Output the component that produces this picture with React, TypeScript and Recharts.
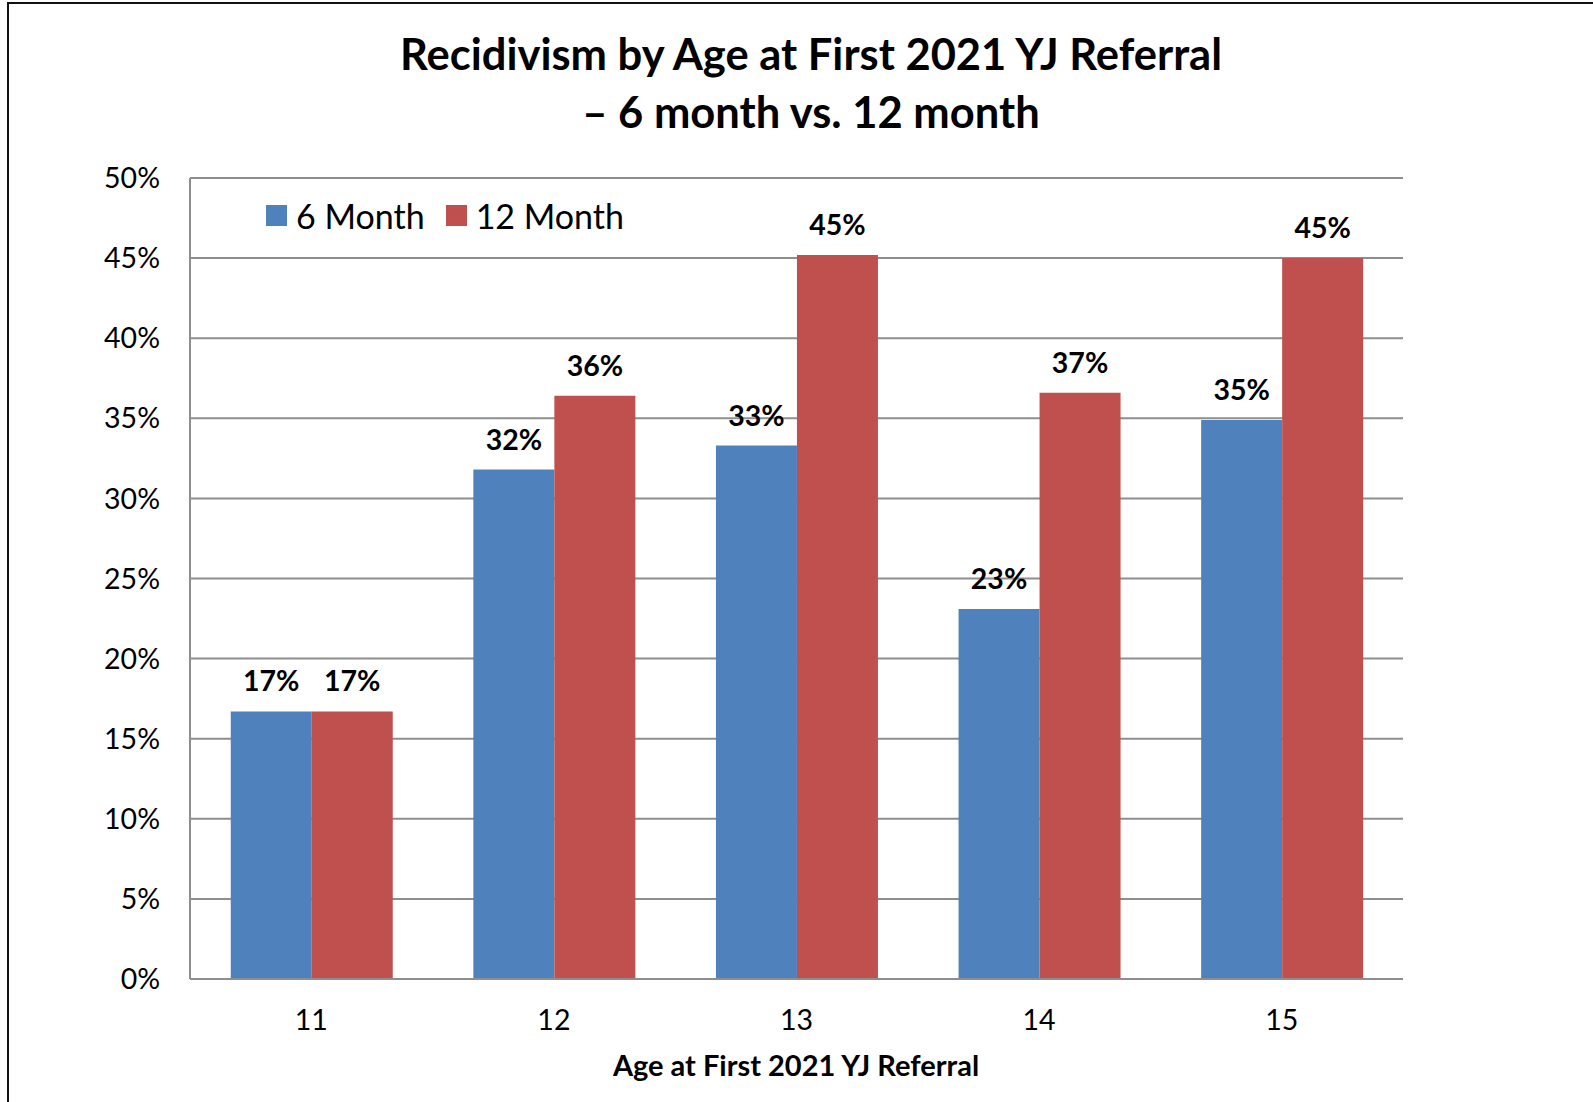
import { BarChart, Bar, XAxis, YAxis, CartesianGrid, LabelList, Legend } from 'recharts';

const ages = ['11', '12', '13', '14', '15'];
const sixMonth = [16.7, 31.8, 33.3, 23.1, 34.9];
const twelveMonth = [16.7, 36.4, 45.2, 36.6, 45.0];
const yTicks = [0, 5, 10, 15, 20, 25, 30, 35, 40, 45, 50];

const series = [
  { key: 'sixMonth', name: '6 Month', color: '#4F81BD' },
  { key: 'twelveMonth', name: '12 Month', color: '#C0504D' },
];

const data = ages.map((age, i) => ({ age, sixMonth: sixMonth[i], twelveMonth: twelveMonth[i] }));

const FONT = "Lato, 'Open Sans', sans-serif";

function LegendBox() {
  return (
    <div style={{ display: 'flex', alignItems: 'center', fontFamily: FONT, fontSize: 34, color: '#000' }}>
      {series.map((s, i) => (
        <div key={s.key} style={{ display: 'flex', alignItems: 'center', marginRight: i === 0 ? 21 : 0 }}>
          <span style={{ width: 21, height: 21, background: s.color, display: 'inline-block', marginRight: 9 }} />
          <span>{s.name}</span>
        </div>
      ))}
    </div>
  );
}

export default function App() {
  return (
    <div style={{ position: 'absolute', left: 0, top: 0, width: 1593, height: 1102, overflow: 'hidden', background: '#fff' }}>
      <div style={{ position: 'absolute', left: 7, top: 2, width: 1600, height: 1200, borderLeft: '2.5px solid #111', borderTop: '2.5px solid #111' }} />

      <div style={{ position: 'absolute', left: 311, top: 24, width: 1000, textAlign: 'center', fontFamily: FONT, fontWeight: 700, fontSize: 43.5, lineHeight: '58px', color: '#000' }}>
        Recidivism by Age at First 2021 YJ Referral
        <br />
        – 6 month vs. 12 month
      </div>

      <div style={{ position: 'absolute', left: 0, top: 0 }}>
        <BarChart
          width={1593}
          height={1102}
          data={data}
          margin={{ top: 178, right: 190, bottom: 63, left: 90 }}
          barCategoryGap="16.8%"
          barGap={0}
        >
          <CartesianGrid vertical={false} stroke="#8e8e8e" strokeWidth={2} />
          <XAxis
            dataKey="age"
            height={60}
            stroke="#8e8e8e"
            strokeWidth={2}
            tickLine={false}
            tickSize={31}
            tickMargin={0}
            tick={{ fill: '#000', fontSize: 28.5, fontFamily: FONT }}
          />
          <YAxis
            width={100}
            domain={[0, 50]}
            ticks={yTicks}
            stroke="#8e8e8e"
            strokeWidth={2}
            tickLine={false}
            tickSize={30}
            tickMargin={0}
            tickFormatter={(v) => `${v}%`}
            tick={{ fill: '#000', fontSize: 28.5, fontFamily: FONT }}
          />
          <Legend
            layout="vertical"
            align="center"
            verticalAlign="middle"
            wrapperStyle={{ left: 266, top: 195, width: 'auto' }}
            content={() => <LegendBox />}
          />
          {series.map((s) => (
            <Bar key={s.key} dataKey={s.key} name={s.name} fill={s.color} isAnimationActive={false}>
              <LabelList
                dataKey={s.key}
                position="top"
                offset={20}
                formatter={(v: any) => `${Math.round(v)}%`}
                style={{ fill: '#000', fontSize: 28.5, fontWeight: 700, fontFamily: FONT }}
              />
            </Bar>
          ))}
        </BarChart>
      </div>

      <div style={{ position: 'absolute', left: 496, top: 1047, width: 600, textAlign: 'center', fontFamily: FONT, fontWeight: 700, fontSize: 29, color: '#000' }}>
        Age at First 2021 YJ Referral
      </div>
    </div>
  );
}
